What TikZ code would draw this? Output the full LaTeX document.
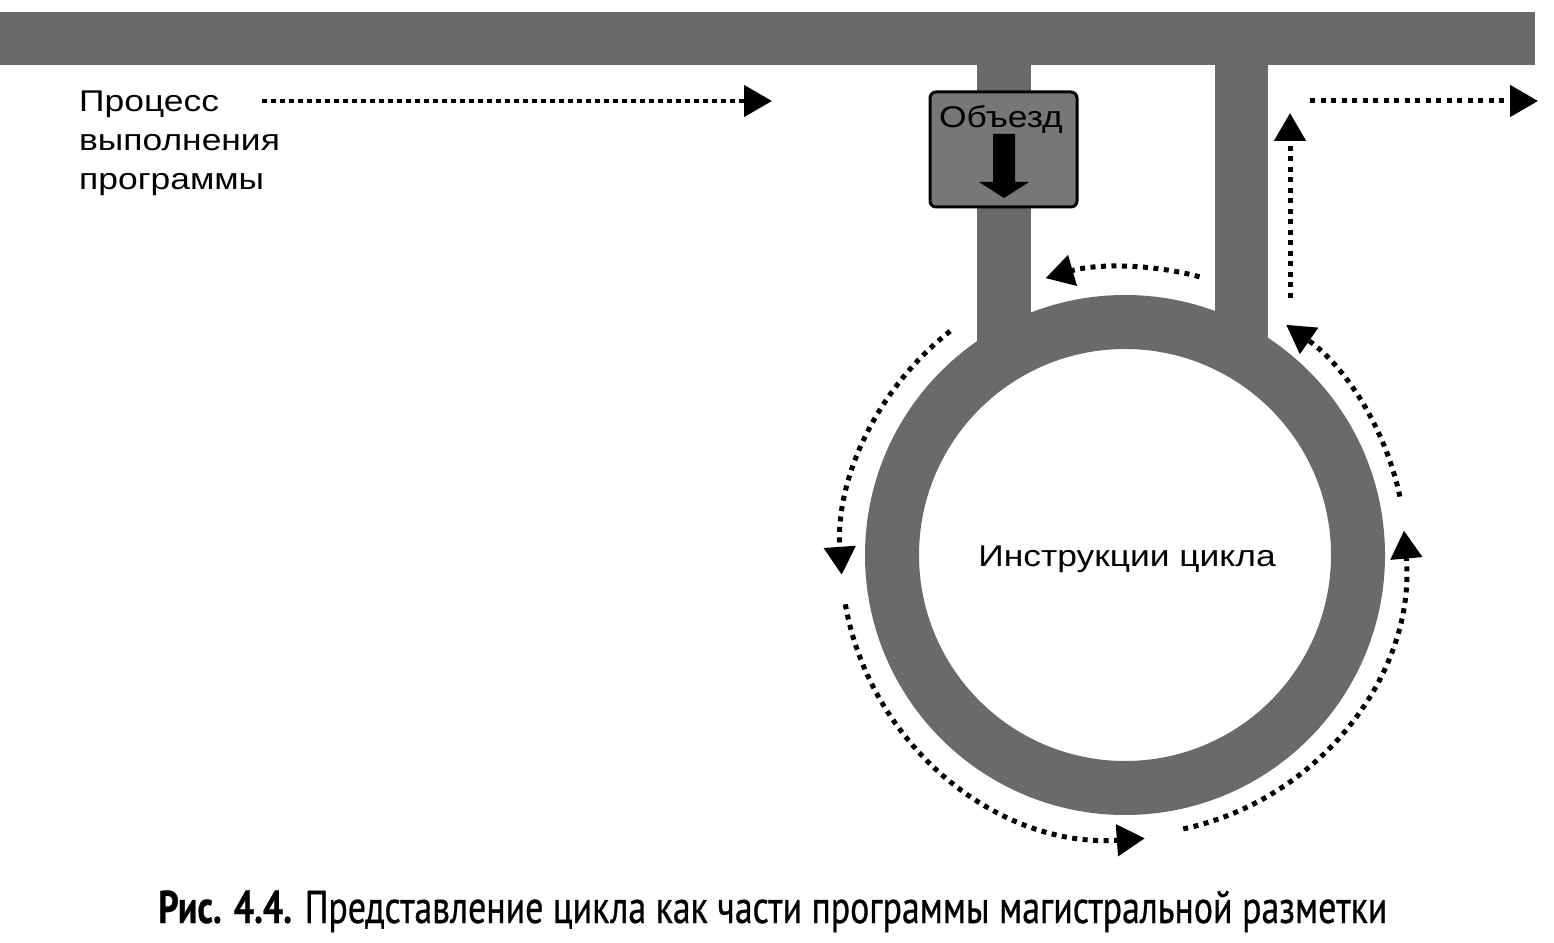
\documentclass[tikz,border=0pt]{standalone}
\usepackage{fontspec}
\usepackage{graphicx}
\setmainfont{Liberation Sans}
\newfontfamily\diafont[FakeStretch=1.18]{Liberation Sans}
\newfontfamily\capfont[FakeStretch=0.78,FakeBold=0.6]{PT Sans}
\usetikzlibrary{arrows.meta,calc}
\definecolor{road}{HTML}{6A6A6A}
\definecolor{signfill}{HTML}{777777}
\tikzset{
  road/.style={fill=road,draw=none},
  flow/.style={line width=5pt,dash pattern=on 5pt off 5.5pt,
    -{Triangle[length=28pt,width=31pt]}},
  flowdense/.style={flow,line width=4.5pt,dash pattern=on 4.5pt off 4.5pt},
  lbl/.style={inner sep=0pt,font=\diafont\fontsize{30}{39}\selectfont},
  signbox/.style={draw=black,line width=3pt,fill=signfill,rounded corners=6pt,
    minimum width=147pt,minimum height=115pt,inner sep=0pt}
}
\begin{document}
\begin{tikzpicture}[x=1pt,y=1pt]
\useasboundingbox (0,0) rectangle (1554,942);
% roads
\fill[road] (0,877) rectangle (1535,930);
\fill[road] (977,600) rectangle (1031,878);
\fill[road] (1215,600) rectangle (1268,878);
\coordinate (C) at (1125,387);
\fill[road,even odd rule] (C) circle[radius=260] (C) circle[radius=206];
% sign
\node[signbox] (sign) at (1003.5,792.5) {};
\node[lbl,anchor=base] (signtxt) at (1001,814) {Объезд};
\fill[black] (993,808) -- (1015,808) -- (1015,760) -- (1029,760) -- (1004,744)
  -- (979,760) -- (993,760) -- cycle;
% labels
\node[lbl,anchor=north west,align=left] (proc) at (79,851)
  {Процесс\\выполнения\\программы};
\node[lbl,anchor=base] (loop) at (1127,375) {Инструкции цикла};
\node[inner sep=0pt,anchor=base west] (cap) at (158,19)
  {\resizebox{1229pt}{!}{\capfont\fontsize{34}{34}\selectfont
   \textbf{Рис. 4.4.} Представление цикла как части программы магистральной разметки}};
% straight flows
\coordinate (a1s) at (262,841); \coordinate (a1e) at (772,841);
\coordinate (a2s) at (1310,841); \coordinate (a2e) at (1538,841);
\coordinate (a3s) at (1290,644); \coordinate (a3e) at (1290,829);
\draw[flowdense] (a1s) -- (a1e);
\draw[flow] (a2s) -- (a2e);
\draw[flow] (a3s) -- (a3e);
% curved flows round the loop
\coordinate (a4s) at ($(C)+(75:288)$);
\coordinate (a5s) at ($(C)+(12:281)$);
\coordinate (a6s) at ($(C)+(-78:280)$);
\coordinate (a7s) at ($(C)+(128:284)$);
\coordinate (a8s) at ($(C)+(190:284)$);
\draw[flow] (a4s) arc[start angle=75,end angle=106,radius=288];
\draw[flow] (a5s) arc[start angle=12,end angle=55,radius=281];
\draw[flow] (a6s) arc[start angle=-78,end angle=5,radius=280];
\draw[flow] (a7s) arc[start angle=128,end angle=184,radius=284];
\draw[flow] (a8s) arc[start angle=190,end angle=274,radius=284];
\end{tikzpicture}
\end{document}
